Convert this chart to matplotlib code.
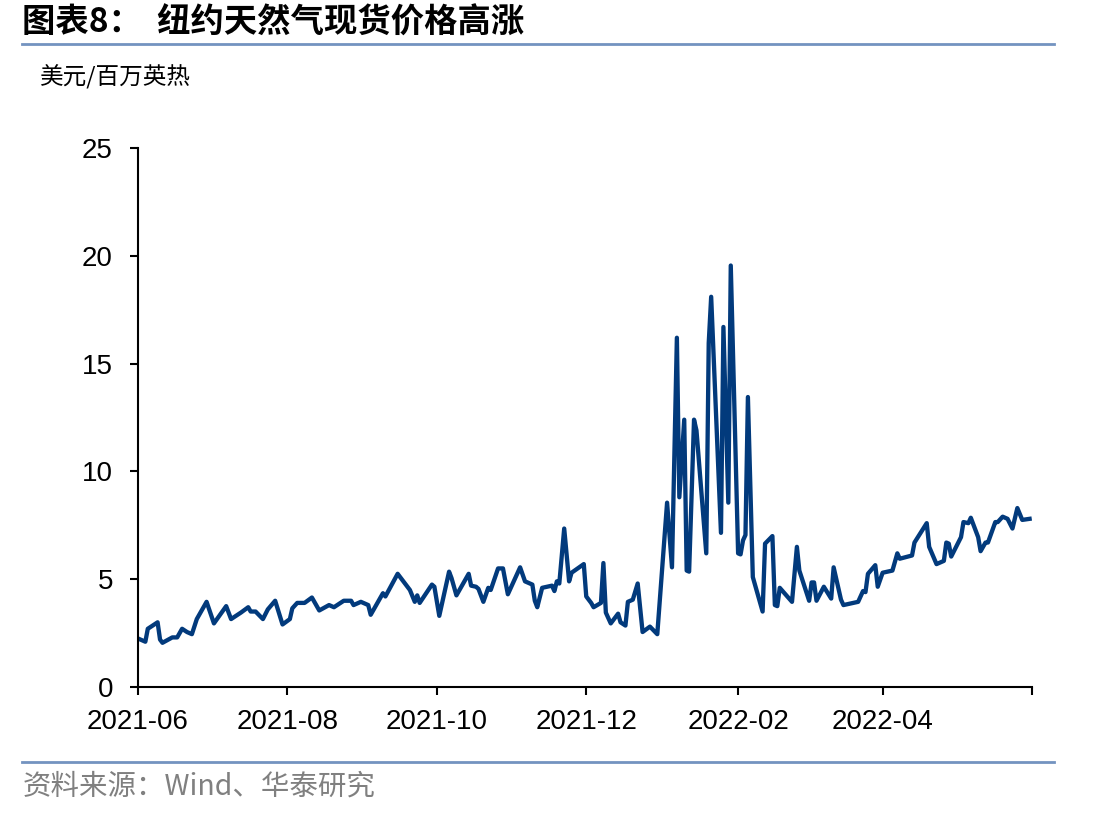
import pandas as pd
import matplotlib
matplotlib.use("Agg")
import matplotlib.pyplot as plt
from matplotlib.lines import Line2D

plt.rcParams['font.family'] = ['Noto Sans CJK SC', 'DejaVu Sans']

# 纽约天然气现货价格（美元/百万英热）
dates = [
    "2021-06-01", "2021-06-04", "2021-06-05", "2021-06-09", "2021-06-10", "2021-06-11",
    "2021-06-15", "2021-06-17", "2021-06-19", "2021-06-21", "2021-06-23", "2021-06-25",
    "2021-06-29", "2021-07-02", "2021-07-07", "2021-07-09", "2021-07-13", "2021-07-16",
    "2021-07-17", "2021-07-19", "2021-07-22", "2021-07-24", "2021-07-27", "2021-07-30",
    "2021-08-02", "2021-08-03", "2021-08-05", "2021-08-08", "2021-08-11", "2021-08-14",
    "2021-08-18", "2021-08-20", "2021-08-24", "2021-08-27", "2021-08-28", "2021-08-31",
    "2021-09-03", "2021-09-04", "2021-09-09", "2021-09-10", "2021-09-15", "2021-09-20",
    "2021-09-22", "2021-09-23", "2021-09-24", "2021-09-29", "2021-09-30", "2021-10-02",
    "2021-10-06", "2021-10-07", "2021-10-09", "2021-10-14", "2021-10-15", "2021-10-17",
    "2021-10-18", "2021-10-20", "2021-10-22", "2021-10-23", "2021-10-26", "2021-10-28",
    "2021-10-30", "2021-11-02", "2021-11-04", "2021-11-06", "2021-11-09", "2021-11-10",
    "2021-11-11", "2021-11-13", "2021-11-17", "2021-11-18", "2021-11-19", "2021-11-20",
    "2021-11-22", "2021-11-24", "2021-11-25", "2021-11-30", "2021-12-01", "2021-12-03",
    "2021-12-04", "2021-12-07", "2021-12-08", "2021-12-09", "2021-12-11", "2021-12-14",
    "2021-12-15", "2021-12-17", "2021-12-18", "2021-12-20", "2021-12-22", "2021-12-24",
    "2021-12-27", "2021-12-30", "2022-01-03", "2022-01-05", "2022-01-07", "2022-01-08",
    "2022-01-10", "2022-01-11", "2022-01-12", "2022-01-14", "2022-01-15", "2022-01-19",
    "2022-01-20", "2022-01-21", "2022-01-25", "2022-01-26", "2022-01-28", "2022-01-29",
    "2022-02-01", "2022-02-02", "2022-02-03", "2022-02-04", "2022-02-05", "2022-02-07",
    "2022-02-11", "2022-02-12", "2022-02-15", "2022-02-16", "2022-02-17", "2022-02-18",
    "2022-02-23", "2022-02-25", "2022-02-26", "2022-03-02", "2022-03-03", "2022-03-04",
    "2022-03-05", "2022-03-08", "2022-03-11", "2022-03-12", "2022-03-15", "2022-03-16",
    "2022-03-18", "2022-03-22", "2022-03-24", "2022-03-25", "2022-03-26", "2022-03-29",
    "2022-03-30", "2022-04-01", "2022-04-05", "2022-04-07", "2022-04-08", "2022-04-13",
    "2022-04-14", "2022-04-19", "2022-04-20", "2022-04-23", "2022-04-26", "2022-04-27",
    "2022-04-28", "2022-04-29", "2022-05-03", "2022-05-04", "2022-05-06", "2022-05-07",
    "2022-05-10", "2022-05-11", "2022-05-13", "2022-05-14", "2022-05-17", "2022-05-18",
    "2022-05-20", "2022-05-22", "2022-05-24", "2022-05-26", "2022-05-28", "2022-05-31",
]
prices = [
    2.25, 2.1, 2.7, 3.0, 2.2, 2.05,
    2.3, 2.3, 2.7, 2.55, 2.45, 3.15,
    3.95, 2.95, 3.75, 3.15, 3.45, 3.7,
    3.5, 3.5, 3.15, 3.6, 4.0, 2.9,
    3.15, 3.65, 3.9, 3.9, 4.15, 3.55,
    3.8, 3.7, 4.0, 4.0, 3.8, 3.95,
    3.8, 3.35, 4.35, 4.2, 5.25, 4.5,
    3.95, 4.25, 3.9, 4.75, 4.65, 3.3,
    5.35, 5.05, 4.25, 5.25, 4.7, 4.65,
    4.55, 3.95, 4.6, 4.5, 5.5, 5.5,
    4.3, 5.05, 5.55, 4.9, 4.75, 4.0,
    3.7, 4.6, 4.7, 4.45, 4.9, 4.8,
    7.35, 4.9, 5.3, 5.7, 4.2, 3.9,
    3.7, 3.9, 5.75, 3.45, 2.95, 3.4,
    3.0, 2.85, 3.95, 4.05, 4.8, 2.55,
    2.8, 2.45, 8.55, 5.55, 16.2, 8.8,
    12.4, 5.4, 5.35, 12.4, 11.9, 6.2,
    15.95, 18.1, 7.15, 16.7, 8.55, 19.55,
    6.2, 6.15, 6.8, 7.05, 13.45, 5.1,
    3.5, 6.65, 7.0, 3.8, 3.75, 4.6,
    3.95, 6.5, 5.4, 4.0, 4.85, 4.85,
    4.0, 4.65, 4.1, 5.55, 4.05, 3.8,
    3.85, 3.95, 4.45, 4.4, 5.25, 5.65,
    4.65, 5.3, 5.4, 6.2, 5.95, 6.1,
    6.7, 7.6, 6.5, 5.7, 5.85, 6.7,
    6.65, 6.05, 6.95, 7.65, 7.6, 7.85,
    6.95, 6.3, 6.7, 6.7, 7.65, 7.65,
    7.9, 7.8, 7.35, 8.3, 7.75, 7.8,
]

tick_dates = ["2021-06-01", "2021-08-01", "2021-10-01", "2021-12-01",
              "2022-02-01", "2022-04-01", "2022-06-01"]
tick_labels = ["2021-06", "2021-08", "2021-10", "2021-12", "2022-02", "2022-04", ""]

df = pd.DataFrame({"date": pd.to_datetime(dates), "price": prices})

fig = plt.figure(figsize=(11.12, 8.16), dpi=100)
ax = fig.add_axes([0.1241, 0.1581, 0.8040, 0.6605])

ax.plot(df["date"], df["price"], color="#023a7c", linewidth=3.1,
        solid_joinstyle="round")

ax.set_xlim(pd.Timestamp("2021-06-01"), pd.Timestamp("2022-06-01"))
ax.set_ylim(0, 25)
ax.set_yticks([0, 5, 10, 15, 20, 25])
ax.set_xticks(pd.to_datetime(tick_dates))
ax.set_xticklabels(tick_labels)

for s in ["top", "right"]:
    ax.spines[s].set_visible(False)
for s in ["left", "bottom"]:
    ax.spines[s].set_linewidth(1.5)
    ax.spines[s].set_color("black")

ax.tick_params(axis="both", labelsize=20, length=6, width=1.5, direction="out")
ax.tick_params(axis="y", pad=12)
ax.tick_params(axis="x", pad=10)
for lab in ax.get_xticklabels() + ax.get_yticklabels():
    lab.set_fontfamily(["Liberation Sans", "DejaVu Sans"])

# 标题、单位、来源
fig.text(0.02, 0.971, "图表8：  纽约天然气现货价格高涨", fontsize=24,
         fontweight="bold", va="center", ha="left")
fig.add_artist(Line2D([0.02, 0.948], [0.946, 0.946], color="#7393c0",
                      linewidth=2, transform=fig.transFigure))
fig.text(0.036, 0.905, "美元/百万英热", fontsize=17, va="center", ha="left")
fig.add_artist(Line2D([0.02, 0.948], [0.066, 0.066], color="#7393c0",
                      linewidth=2, transform=fig.transFigure))
fig.text(0.02, 0.036, "资料来源：Wind、华泰研究", fontsize=20.5, color="#808080",
         va="center", ha="left")

fig.savefig("out.png", dpi=100)
